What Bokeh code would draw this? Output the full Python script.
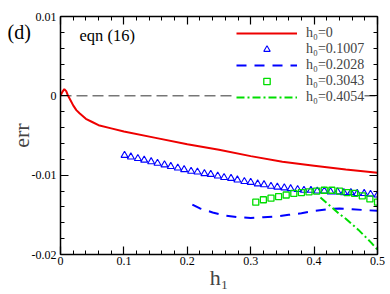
from bokeh.plotting import figure
from bokeh.models import (Range1d, LinearAxis, SingleIntervalTicker, NumeralTickFormatter,
                          CustomJSTickFormatter, Span, Legend, LegendItem, Label)
from bokeh.core.properties import value
from bokeh.embed import file_html
from bokeh.resources import INLINE

# ---- data ----
h1_red = [0.0, 0.003, 0.006, 0.009, 0.012, 0.016, 0.02, 0.025, 0.03, 0.04, 0.05, 0.06,
          0.08, 0.10, 0.15, 0.20, 0.25, 0.30, 0.35, 0.40, 0.45, 0.50]
err_red = [0.0, 0.0005, 0.00085, 0.0006, 0.0, -0.0006, -0.0012, -0.0018, -0.0022, -0.0029,
           -0.0033, -0.0037, -0.0041, -0.0045, -0.0053, -0.0061, -0.0068, -0.0076, -0.0083,
           -0.0088, -0.0093, -0.0097]

h1_tri = [0.101, 0.111, 0.122, 0.132, 0.143, 0.153, 0.164, 0.174, 0.185, 0.195, 0.206,
          0.216, 0.227, 0.237, 0.248, 0.258, 0.269, 0.279, 0.290, 0.300, 0.311, 0.321,
          0.332, 0.342, 0.353, 0.363, 0.374, 0.384, 0.395, 0.405, 0.416, 0.426, 0.437,
          0.447, 0.458, 0.468, 0.479, 0.489, 0.500]
err_tri = [-0.0075, -0.0077, -0.0079, -0.0081, -0.0083, -0.0085, -0.0087, -0.0089, -0.0091,
           -0.0093, -0.0095, -0.0096, -0.0098, -0.0099, -0.0101, -0.0103, -0.0104, -0.0106,
           -0.0108, -0.0109, -0.0111, -0.0112, -0.0114, -0.0115, -0.0116, -0.0117, -0.0118,
           -0.0119, -0.0119, -0.0120, -0.0120, -0.0121, -0.0121, -0.0122, -0.0122, -0.0123,
           -0.0123, -0.0124, -0.0125]

h1_dash = [0.208, 0.22, 0.24, 0.26, 0.28, 0.30, 0.32, 0.34, 0.36, 0.38, 0.40, 0.42, 0.44,
           0.46, 0.48, 0.50]
err_dash = [-0.0137, -0.0142, -0.0147, -0.0151, -0.0153, -0.0154, -0.0153, -0.0152, -0.0150,
            -0.0148, -0.0145, -0.0143, -0.0142, -0.0143, -0.0144, -0.0145]

h1_sq = [0.308, 0.320, 0.332, 0.344, 0.356, 0.368, 0.380, 0.392, 0.404, 0.416, 0.428, 0.440,
         0.452, 0.464, 0.476, 0.488, 0.500]
err_sq = [-0.0134, -0.0131, -0.0129, -0.0127, -0.0125, -0.0123, -0.0122, -0.0121, -0.0120,
          -0.0119, -0.0119, -0.0120, -0.0122, -0.0123, -0.0126, -0.0130, -0.0134]

h1_dd = [0.410, 0.42, 0.43, 0.44, 0.45, 0.46, 0.47, 0.48, 0.49, 0.50]
err_dd = [-0.0128, -0.0135, -0.0142, -0.0149, -0.0155, -0.0162, -0.0169, -0.0177, -0.0185,
          -0.0194]

labels = ["h\u2080=0", "h\u2080=0.1007", "h\u2080=0.2028", "h\u2080=0.3043", "h\u2080=0.4054"]

FONT = "Liberation Serif"
RED, BLUE, GREEN = "#ee0000", "#0000ff", "#00dd00"

p = figure(width=390, height=294, output_backend="svg", toolbar_location=None,
           x_range=Range1d(0, 0.5), y_range=Range1d(-0.02, 0.01),
           x_axis_location=None, y_axis_location=None,
           min_border_left=60, min_border_right=13, min_border_top=16, min_border_bottom=40)
p.grid.visible = False
p.outline_line_color = None
p.background_fill_color = "white"
p.border_fill_color = "white"


def style_axis(ax, show_labels):
    ax.axis_line_width = 1.5
    ax.axis_line_color = "black"
    ax.major_tick_in = 8
    ax.major_tick_out = 0
    ax.minor_tick_in = 4
    ax.minor_tick_out = 0
    ax.major_tick_line_width = 1.2
    ax.minor_tick_line_width = 1
    ax.major_tick_line_color = "black"
    ax.minor_tick_line_color = "black"
    ax.major_label_text_font = FONT
    ax.major_label_text_color = "black"
    if show_labels:
        ax.major_label_text_font_size = "12px"
    else:
        ax.major_label_text_font_size = "1px"
        ax.major_label_standoff = 0


fmt = NumeralTickFormatter(format="0.[00]")
blank = CustomJSTickFormatter(code="return ''")

xb = LinearAxis(ticker=SingleIntervalTicker(interval=0.1, num_minor_ticks=5), formatter=fmt,
                axis_label="h\u2081")
style_axis(xb, True)
xb.major_label_standoff = 2
xb.axis_label_text_font = FONT
xb.axis_label_text_font_size = "22px"
xb.axis_label_text_font_style = "normal"
xb.axis_label_standoff = -3
p.add_layout(xb, "below")

xt = LinearAxis(ticker=SingleIntervalTicker(interval=0.1, num_minor_ticks=5), formatter=blank)
style_axis(xt, False)
p.add_layout(xt, "above")

yl = LinearAxis(ticker=SingleIntervalTicker(interval=0.01, num_minor_ticks=5), formatter=fmt,
                axis_label="err")
style_axis(yl, True)
yl.major_label_standoff = 4
yl.axis_label_text_font = FONT
yl.axis_label_text_font_size = "22px"
yl.axis_label_text_font_style = "normal"
yl.axis_label_standoff = -5
p.add_layout(yl, "left")

yr = LinearAxis(ticker=SingleIntervalTicker(interval=0.01, num_minor_ticks=5), formatter=blank)
style_axis(yr, False)
p.add_layout(yr, "right")

p.add_layout(Span(location=0, dimension="width", line_color="#333333", line_width=1,
                  line_dash="11 5", level="underlay"))

r_red = p.line(h1_red, err_red, line_color=RED, line_width=2)
r_tri = p.scatter(h1_tri, err_tri, marker="triangle", size=7, fill_color=None,
                  line_color=BLUE, line_width=1.1)
r_dash = p.line(h1_dash, err_dash, line_color=BLUE, line_width=2, line_dash="10 8")
r_sq = p.scatter(h1_sq, err_sq, marker="square", size=6, fill_color=None,
                 line_color=GREEN, line_width=1.3)
r_dd = p.line(h1_dd, err_dd, line_color=GREEN, line_width=2, line_dash="8 3 2 3")

legend = Legend(items=[LegendItem(label=labels[0], renderers=[r_red]),
                       LegendItem(label=labels[1], renderers=[r_tri]),
                       LegendItem(label=labels[2], renderers=[r_dash]),
                       LegendItem(label=labels[3], renderers=[r_sq]),
                       LegendItem(label=labels[4], renderers=[r_dd])],
                location=(176, 149), glyph_width=61, glyph_height=16, label_height=16,
                label_standoff=9, spacing=0, padding=2, margin=0,
                label_text_font=FONT, label_text_font_size="14px",
                background_fill_color="white", background_fill_alpha=1.0,
                border_line_color=None)
p.add_layout(legend, "center")

p.add_layout(Label(x=0, y=0.01, x_offset=19, y_offset=-19, text="eqn (16)",
                   text_font=FONT, text_font_size="16.5px", text_baseline="middle",
                   text_align="left", text_color="black"))

# panel tag, drawn as an overlay-level text glyph so it may sit left of the frame
p.text(x=[0], y=[0.0080], text=["(d)"], x_offset=-53, y_offset=0,
       text_font=value(FONT), text_font_size="20px", text_baseline="middle",
       text_align="left", text_color="black", level="overlay")

open("out.html", "w").write(file_html(p, INLINE))
